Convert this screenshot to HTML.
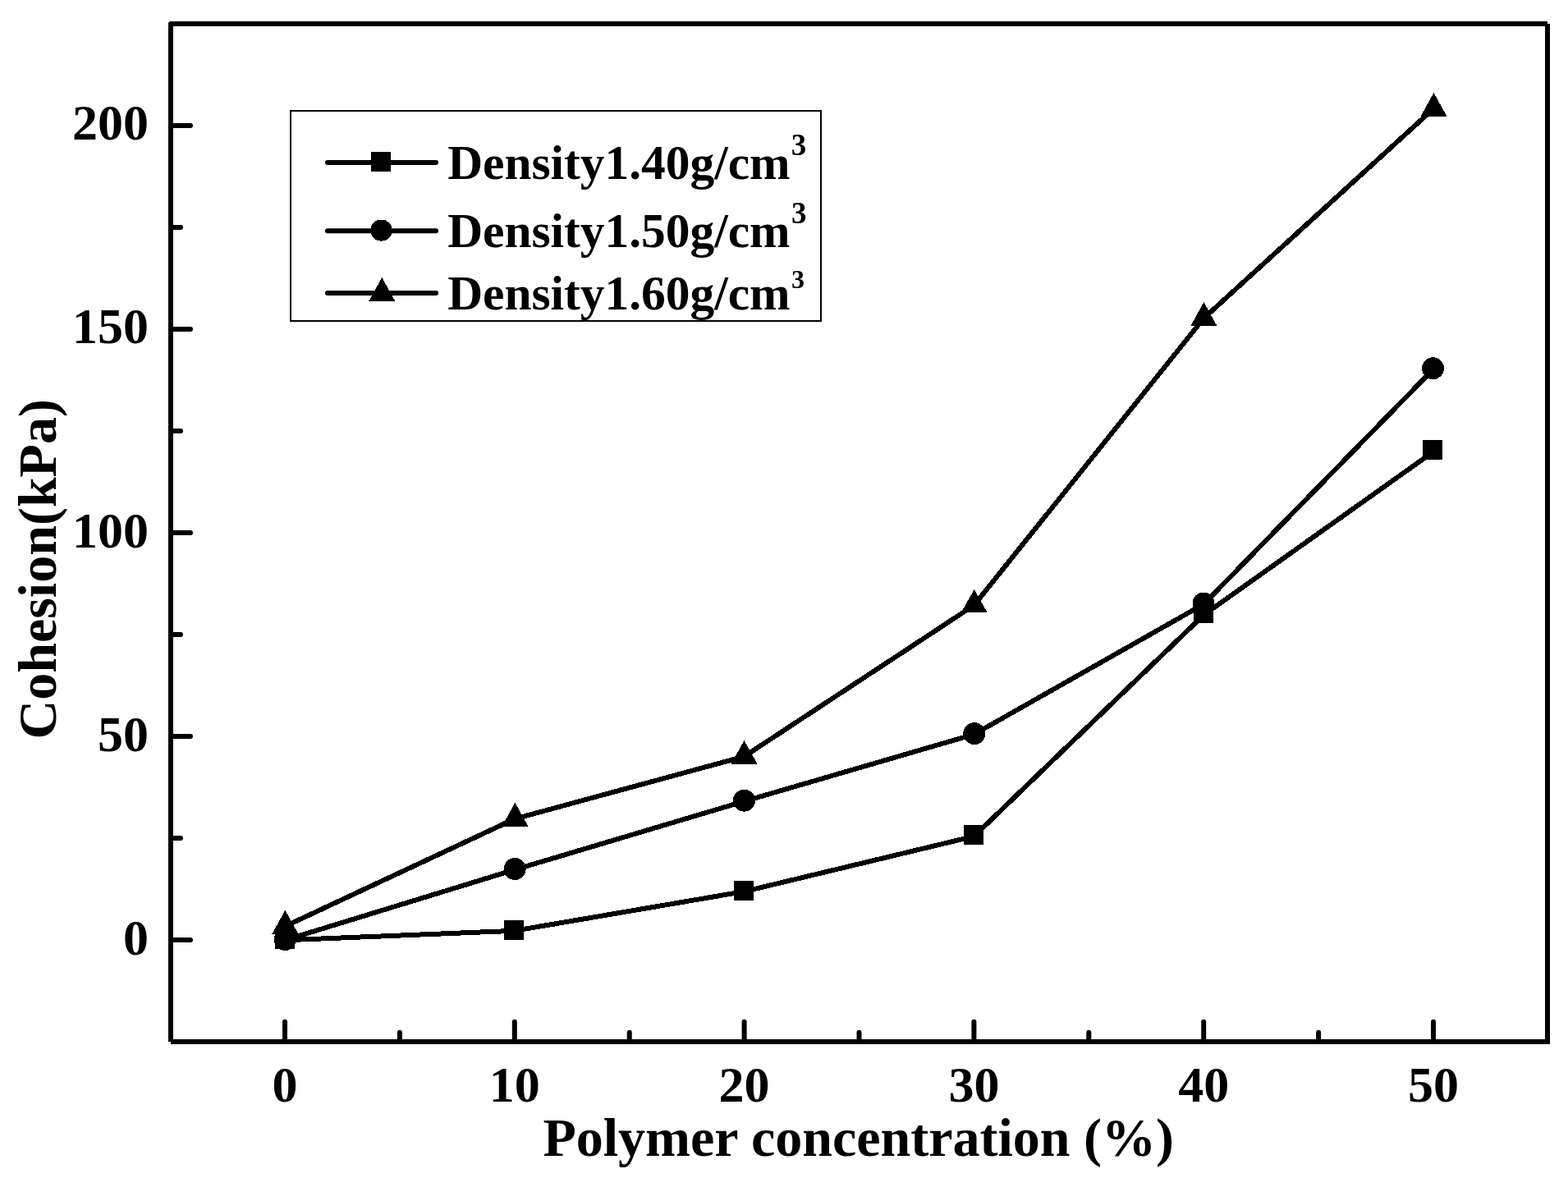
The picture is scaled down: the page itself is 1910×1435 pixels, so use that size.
<!DOCTYPE html>
<html><head><meta charset="utf-8"><title>Cohesion vs Polymer concentration</title>
<style>html,body{margin:0;padding:0;background:#fff;overflow:hidden}svg{display:block}</style>
</head><body>
<svg xmlns="http://www.w3.org/2000/svg" width="1910" height="1435" viewBox="0 0 1910 1435">
<rect width="1910" height="1435" fill="#fff"/>
<path d="M208,1269L208,29L1885,29" fill="none" stroke="#000" stroke-width="6" stroke-linejoin="round"/>
<path d="M208,1269L1885,1269L1885,29" fill="none" stroke="#000" stroke-width="6" stroke-linejoin="miter"/>
<path d="M208,1145.0H232M208,897.0H232M208,649.0H232M208,400.9H232M208,152.9H232M208,1021.0H220M208,773.0H220M208,524.9H220M208,276.9H220M347.0,1269V1244.8M626.8,1269V1244.8M906.6,1269V1244.8M1186.4,1269V1244.8M1466.2,1269V1244.8M1746.0,1269V1244.8M486.9,1269V1257.8M766.7,1269V1257.8M1046.5,1269V1257.8M1326.3,1269V1257.8M1606.1,1269V1257.8" fill="none" stroke="#000" stroke-width="6.0" stroke-linecap="round"/>
<g font-family='"Liberation Serif", serif' font-weight="bold" font-size="62" fill="#000">
<text x="181" y="1162.5" text-anchor="end">0</text>
<text x="181" y="914.5" text-anchor="end">50</text>
<text x="181" y="666.5" text-anchor="end">100</text>
<text x="181" y="418.4" text-anchor="end">150</text>
<text x="181" y="170.4" text-anchor="end">200</text>
<text x="347.0" y="1341.8" text-anchor="middle">0</text>
<text x="626.8" y="1341.8" text-anchor="middle">10</text>
<text x="906.6" y="1341.8" text-anchor="middle">20</text>
<text x="1186.4" y="1341.8" text-anchor="middle">30</text>
<text x="1466.2" y="1341.8" text-anchor="middle">40</text>
<text x="1746.0" y="1341.8" text-anchor="middle">50</text>
</g>
<text x="1045.7" y="1408" text-anchor="middle" font-family='"Liberation Serif", serif' font-weight="bold" font-size="66">Polymer concentration (%)</text>
<text transform="translate(67.5,693.3) rotate(-90)" text-anchor="middle" font-family='"Liberation Serif", serif' font-weight="bold" font-size="66">Cohesion(kPa)</text>
<g fill="none" stroke="#000" stroke-width="6" stroke-linejoin="round" shape-rendering="crispEdges">
<path d="M347.0,1145.3L626.8,1133.8L906.6,1086.0L1186.4,1018.8L1466.2,749.2L1746.0,550.3"/>
<path d="M347.0,1145.3L626.8,1059.5L906.6,976.1L1186.4,894.6L1466.2,736.0L1746.0,449.7"/>
<path d="M347.0,1128.5L626.8,997.6L906.6,921.5L1186.4,737.4L1466.2,387.8L1746.0,132.6"/>
</g>
<g fill="#000" shape-rendering="crispEdges">
<rect x="335.0" y="1131.7" width="24.0" height="24.0"/>
<rect x="614.1" y="1120.8" width="24.0" height="24.0"/>
<rect x="894.0" y="1073.0" width="24.0" height="24.0"/>
<rect x="1174.0" y="1005.0" width="24.0" height="24.0"/>
<rect x="1453.5" y="734.8" width="24.0" height="24.0"/>
<rect x="1733.0" y="535.8" width="24.0" height="24.0"/>
<circle cx="347.3" cy="1144.5" r="13.5"/>
<circle cx="627.1" cy="1058.5" r="13.5"/>
<circle cx="906.5" cy="975.1" r="13.5"/>
<circle cx="1186.8" cy="893.6" r="13.5"/>
<circle cx="1466.0" cy="735.0" r="13.5"/>
<circle cx="1745.5" cy="448.7" r="13.5"/>
<path d="M347.4,1108.8L363.4,1137.6L331.4,1137.6Z"/>
<path d="M627.4,977.8L643.4,1006.7L611.4,1006.7Z"/>
<path d="M906.5,902.0L922.5,930.6L890.5,930.6Z"/>
<path d="M1186.7,718.0L1202.7,746.3L1170.7,746.3Z"/>
<path d="M1466.4,368.0L1482.4,397.0L1450.4,397.0Z"/>
<path d="M1746.5,113.0L1762.5,141.7L1730.5,141.7Z"/>
</g>
<rect x="354" y="135" width="646" height="256" fill="none" stroke="#000" stroke-width="2" shape-rendering="crispEdges"/>
<path d="M399,198.0H531M399,281.2H531M399,357.0H531" fill="none" stroke="#000" stroke-width="6" stroke-linecap="round"/>
<g fill="#000" shape-rendering="crispEdges">
<rect x="452.0" y="184.9" width="24.0" height="24.0"/>
<circle cx="464.5" cy="280.6" r="13.1"/>
<path d="M465.3,337.9L481.3,366.8L449.3,366.8Z"/>
</g>
<g font-family='"Liberation Serif", serif' font-weight="bold" font-size="59.4" fill="#000">
<text x="545.2" y="217.8">Density1.40g/cm<tspan font-size="37" dx="1.2" dy="-28.6">3</tspan></text>
<text x="545.2" y="300.6">Density1.50g/cm<tspan font-size="37" dx="1.4" dy="-28.2">3</tspan></text>
<text x="545.2" y="376.7">Density1.60g/cm<tspan font-size="32" dx="1.4" dy="-25.4">3</tspan></text>
</g>
</svg>
</body></html>
